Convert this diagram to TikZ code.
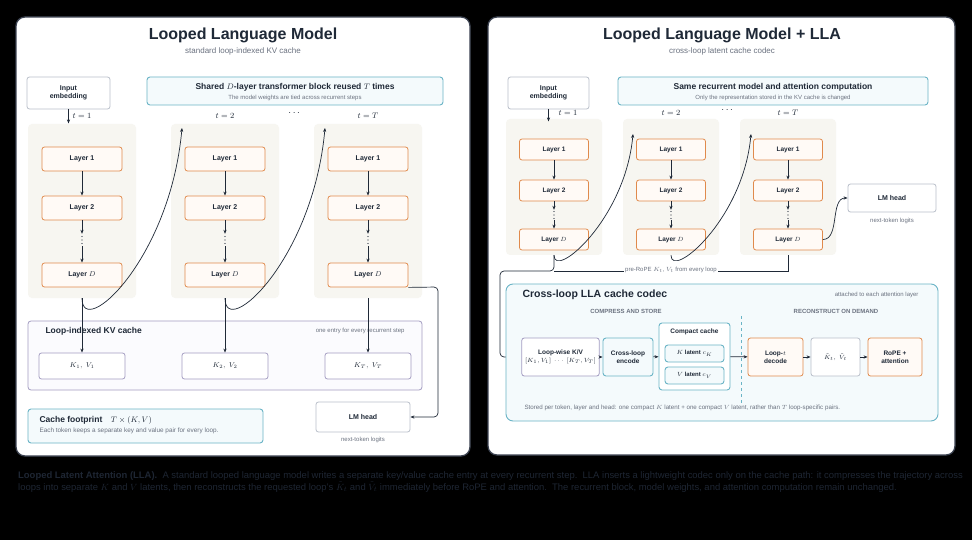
\documentclass[tikz,border=0pt]{standalone}
\usepackage{fontspec}
\setmainfont{Liberation Sans}
\usepackage{amsmath}
\usetikzlibrary{arrows.meta}
\usetikzlibrary{positioning}
\definecolor{ink}{HTML}{1F2937}
\definecolor{muted}{HTML}{6B7280}
\definecolor{panelline}{HTML}{3B4250}
\definecolor{loopgray}{HTML}{F7F6F1}
\definecolor{orangeline}{HTML}{E08A4C}
\definecolor{orangefill}{HTML}{FFFAF6}
\definecolor{tealline}{HTML}{6AB4C6}
\definecolor{tealfill}{HTML}{F4FAFC}
\definecolor{purpleline}{HTML}{A49DC2}
\definecolor{purplefill}{HTML}{FBFBFE}
\definecolor{grayline}{HTML}{B9BFCA}
\definecolor{captionink}{HTML}{1E2633}
\newcommand{\fsz}[2]{\fontsize{#1}{#2}\selectfont}
\tikzset{
panel/.style={draw=panelline, line width=1.3pt, fill=white, rounded corners=9pt},
title/.style={text=ink, font=\bfseries\fsz{16}{18}},
subtitle/.style={text=muted, font=\fsz{8}{9}},
loopbg/.style={fill=loopgray, rounded corners=4pt},
layer/.style={draw=orangeline, fill=orangefill, line width=0.8pt, rounded corners=2.5pt, text=ink, font=\bfseries\fsz{7}{8}},
plainbox/.style={draw=grayline, fill=white, line width=0.8pt, rounded corners=2.5pt, text=ink, align=center, font=\bfseries\fsz{7}{8.5}},
tealbox/.style={draw=tealline, fill=tealfill, line width=0.9pt, rounded corners=3pt},
purplebox/.style={draw=purpleline, fill=purplefill, line width=0.8pt, rounded corners=3pt},
entry/.style={draw=purpleline, fill=white, line width=0.8pt, rounded corners=2.5pt, text=ink, font=\fsz{7}{8}},
head/.style={text=ink, font=\bfseries\fsz{8.5}{10}},
note/.style={text=muted, font=\fsz{6}{7}},
tlabel/.style={text=ink, font=\fsz{8}{9}},
vdotsnode/.style={minimum width=4pt, minimum height=10pt, inner sep=0pt,
    path picture={\fill[ink] ([yshift=3.5pt]path picture bounding box.center) circle (0.55pt)
        (path picture bounding box.center) circle (0.55pt)
        ([yshift=-3.5pt]path picture bounding box.center) circle (0.55pt);}},
conn/.style={draw=ink, line width=0.7pt},
}

\begin{document}
\begin{tikzpicture}[x=1pt, y=-1pt, >={Stealth[length=4pt,width=3.2pt]}]
            \fill[black] (0,0) rectangle (972,540);
            \useasboundingbox (0,0) rectangle (972,540);

            % left panel
            \node[panel, minimum width=454pt, minimum height=439pt] (panelL) at (243,236.5) {};
            \node[title] (titleL) at (243,35) {Looped Language Model};
            \node[subtitle] (subL) at (243,51) {standard loop-indexed KV cache};
            \node[plainbox, minimum width=83pt, minimum height=32pt] (embL) at (68.5,93) {Input\\embedding};
            \node[tealbox, minimum width=296pt, minimum height=28pt] (sharedL) at (295,91) {};
            \node[head] at (295,87) {Shared $D$-layer transformer block reused $T$ times};
            \node[note] at (295,98) {The model weights are tied across recurrent steps};
            \node[tlabel] at (82,116) {$t = 1$};
            \node[tlabel] at (225,116) {$t = 2$};
            \node[tlabel, font=\fsz{10}{10}] at (295,113) {$\cdots$};
            \node[tlabel] at (368,116) {$t = T$};

            \node[loopbg, minimum width=108pt, minimum height=174pt] (colA1) at (82,211) {};
            \node[loopbg, minimum width=108pt, minimum height=174pt] (colA2) at (225,211) {};
            \node[loopbg, minimum width=108pt, minimum height=174pt] (colA3) at (368,211) {};
            \node[layer, minimum width=80pt, minimum height=24pt] (a11) at (82,159) {Layer 1};
            \node[layer, minimum width=80pt, minimum height=24pt] (a12) at (82,208) {Layer 2};
            \node[vdotsnode, minimum height=12pt] (a1d) at (82,240) {};
            \node[layer, minimum width=80pt, minimum height=24pt] (a1D) at (82,275) {Layer $D$};
            \node[layer, minimum width=80pt, minimum height=24pt] (a21) at (225,159) {Layer 1};
            \node[layer, minimum width=80pt, minimum height=24pt] (a22) at (225,208) {Layer 2};
            \node[vdotsnode, minimum height=12pt] (a2d) at (225,240) {};
            \node[layer, minimum width=80pt, minimum height=24pt] (a2D) at (225,275) {Layer $D$};
            \node[layer, minimum width=80pt, minimum height=24pt] (a31) at (368,159) {Layer 1};
            \node[layer, minimum width=80pt, minimum height=24pt] (a32) at (368,208) {Layer 2};
            \node[vdotsnode, minimum height=12pt] (a3d) at (368,240) {};
            \node[layer, minimum width=80pt, minimum height=24pt] (a3D) at (368,275) {Layer $D$};

            \node[purplebox, minimum width=394pt, minimum height=69pt] (kvbox) at (225,355.5) {};
            \node[head, anchor=west] at (42,331) {Loop-indexed KV cache};
            \node[note, anchor=east] at (408,331) {one entry for every recurrent step};
            \node[entry, minimum width=86pt, minimum height=26pt] (kvA1) at (82,366) {$K_1,\ V_1$};
            \node[entry, minimum width=86pt, minimum height=26pt] (kvA2) at (225,366) {$K_2,\ V_2$};
            \node[entry, minimum width=86pt, minimum height=26pt] (kvA3) at (368,366) {$K_T,\ V_T$};

            \node[tealbox, minimum width=235pt, minimum height=34pt] (footL) at (145.5,426) {};
            \node[head, anchor=west] at (36,420) {Cache footprint\quad $T\times(K,V)$};
            \node[note, anchor=west, font=\fsz{6.4}{7}] at (36,431) {Each token keeps a separate key and value pair for every loop.};
            \node[plainbox, minimum width=94pt, minimum height=30pt] (lmL) at (363,417) {LM head};
            \node[note, below=1pt of lmL] {next-token logits};

            \coordinate (inA2) at (182,128);
            \coordinate (inA3) at (325,128);
            \coordinate (turnL) at (438,287);
            \draw[conn, ->] (embL.south) -- ++(0,14);
            \draw[conn, ->] (a11) -- (a12);
            \draw[conn, ->] (a12) -- (a1d);
            \draw[conn, ->] (a1d) -- (a1D);
            \draw[conn, ->] (a21) -- (a22);
            \draw[conn, ->] (a22) -- (a2d);
            \draw[conn, ->] (a2d) -- (a2D);
            \draw[conn, ->] (a31) -- (a32);
            \draw[conn, ->] (a32) -- (a3d);
            \draw[conn, ->] (a3d) -- (a3D);
            \draw[conn, ->] (colA1.south) -- (kvA1.north);
            \draw[conn, ->] (colA2.south) -- (kvA2.north);
            \draw[conn, ->] (colA3.south) -- (kvA3.north);
            \draw[conn, ->] (colA1.south) .. controls (82,340) and (170,260) .. (inA2);
            \draw[conn, ->] (colA2.south) .. controls (225,340) and (313,260) .. (inA3);
            \draw[conn, ->, rounded corners=4pt] (a3D.south east) -- (turnL) |- (lmL.east);

            % right panel
            \node[panel, minimum width=467pt, minimum height=438pt] (panelR) at (721.5,236) {};
            \node[title] (titleR) at (722,35) {Looped Language Model + LLA};
            \node[subtitle] (subR) at (722,51) {cross-loop latent cache codec};
            \node[plainbox, minimum width=81pt, minimum height=32pt] (embR) at (548.5,93) {Input\\embedding};
            \node[tealbox, minimum width=310pt, minimum height=28pt] (sharedR) at (773,91) {};
            \node[head] at (773,87) {Same recurrent model and attention computation};
            \node[note] at (773,98) {Only the representation stored in the KV cache is changed};
            \node[tlabel] at (568,113) {$t = 1$};
            \node[tlabel] at (671,113) {$t = 2$};
            \node[tlabel, font=\fsz{10}{10}] at (728,110) {$\cdots$};
            \node[tlabel] at (788,113) {$t = T$};

            \node[loopbg, minimum width=96pt, minimum height=136pt] (colB1) at (554,187) {};
            \node[loopbg, minimum width=96pt, minimum height=136pt] (colB2) at (671,187) {};
            \node[loopbg, minimum width=96pt, minimum height=136pt] (colB3) at (788,187) {};
            \node[layer, minimum width=69pt, minimum height=21pt, font=\bfseries\fsz{6.5}{7.5}] (b11) at (554,149.5) {Layer 1};
            \node[layer, minimum width=69pt, minimum height=21pt, font=\bfseries\fsz{6.5}{7.5}] (b12) at (554,190.5) {Layer 2};
            \node[vdotsnode] (b1d) at (554,215) {};
            \node[layer, minimum width=69pt, minimum height=21pt, font=\bfseries\fsz{6.5}{7.5}] (b1D) at (554,239.5) {Layer $D$};
            \node[layer, minimum width=69pt, minimum height=21pt, font=\bfseries\fsz{6.5}{7.5}] (b21) at (671,149.5) {Layer 1};
            \node[layer, minimum width=69pt, minimum height=21pt, font=\bfseries\fsz{6.5}{7.5}] (b22) at (671,190.5) {Layer 2};
            \node[vdotsnode] (b2d) at (671,215) {};
            \node[layer, minimum width=69pt, minimum height=21pt, font=\bfseries\fsz{6.5}{7.5}] (b2D) at (671,239.5) {Layer $D$};
            \node[layer, minimum width=69pt, minimum height=21pt, font=\bfseries\fsz{6.5}{7.5}] (b31) at (788,149.5) {Layer 1};
            \node[layer, minimum width=69pt, minimum height=21pt, font=\bfseries\fsz{6.5}{7.5}] (b32) at (788,190.5) {Layer 2};
            \node[vdotsnode] (b3d) at (788,215) {};
            \node[layer, minimum width=69pt, minimum height=21pt, font=\bfseries\fsz{6.5}{7.5}] (b3D) at (788,239.5) {Layer $D$};
            \node[plainbox, minimum width=88pt, minimum height=28pt] (lmR) at (892,198) {LM head};
            \node[note, below=2pt of lmR] {next-token logits};

            \node[tealbox, minimum width=432pt, minimum height=137pt, rounded corners=7pt] (codec) at (722,352.5) {};
            \node[head, anchor=west, font=\bfseries\fsz{10.5}{12}] at (519,295) {Cross-loop LLA cache codec};
            \node[note, anchor=east] at (922,295) {attached to each attention layer};
            \node[note, font=\bfseries\fsz{6}{7}] at (626,311) {COMPRESS AND STORE};
            \node[note, font=\bfseries\fsz{6}{7}] at (836,311) {RECONSTRUCT ON DEMAND};
            \draw[tealline, dashed, line width=0.7pt] (741,316) -- (741,405);
            \node[entry, minimum width=71pt, minimum height=38pt, align=center, font=\fsz{6}{7.5}] (loopkv) at (560.5,357) {\textbf{\fsz{6.5}{7.5}Loop-wise K/V}\\$[K_1,V_1]\ \cdots\ [K_T,V_T]$};
            \node[tealbox, minimum width=50pt, minimum height=38pt, align=center, text=ink, font=\bfseries\fsz{6.5}{8}] (encode) at (628,357) {Cross-loop\\encode};
            \node[tealbox, fill=white, minimum width=71pt, minimum height=67pt] (compact) at (694.5,356.5) {};
            \node[text=ink, font=\bfseries\fsz{6.5}{7.5}] at (694.5,332) {Compact cache};
            \node[tealbox, minimum width=59pt, minimum height=17pt, text=ink, font=\bfseries\fsz{6}{7}] (klat) at (694.5,353.5) {$K$ latent $c_K$};
            \node[tealbox, minimum width=59pt, minimum height=17pt, text=ink, font=\bfseries\fsz{6}{7}] (vlat) at (694.5,375.5) {$V$ latent $c_V$};
            \node[layer, minimum width=55pt, minimum height=38pt, align=center, font=\bfseries\fsz{6.5}{8}] (decode) at (775.5,357) {Loop-$t$\\decode};
            \node[plainbox, minimum width=49pt, minimum height=38pt, font=\fsz{6.5}{8}] (ktil) at (835.5,357) {$\tilde{K}_t,\;\tilde{V}_t$};
            \node[layer, minimum width=54pt, minimum height=38pt, align=center, font=\bfseries\fsz{6.5}{8}] (rope) at (895,357) {RoPE +\\attention};
            \node[note, anchor=west, font=\fsz{6.2}{7}] at (521,408) {Stored per token, layer and head: one compact $K$ latent + one compact $V$ latent, rather than $T$ loop-specific pairs.};

            \coordinate (inB2) at (633,134);
            \coordinate (inB3) at (751,134);
            \coordinate (busL) at (554,271);
            \coordinate (busR) at (788,271);
            \coordinate (busturn) at (500,271);
            \draw[conn, ->] (embR.south) -- ++(0,12);
            \draw[conn, ->] (b11) -- (b12);
            \draw[conn, ->] (b12) -- (b1d);
            \draw[conn, ->] (b1d) -- (b1D);
            \draw[conn, ->] (b21) -- (b22);
            \draw[conn, ->] (b22) -- (b2d);
            \draw[conn, ->] (b2d) -- (b2D);
            \draw[conn, ->] (b31) -- (b32);
            \draw[conn, ->] (b32) -- (b3d);
            \draw[conn, ->] (b3d) -- (b3D);
            \draw[conn, ->] (colB1.south) .. controls (554,280) and (625,220) .. (inB2);
            \draw[conn, ->] (colB2.south) .. controls (671,280) and (743,220) .. (inB3);
            \draw[conn, ->] (b3D.east) .. controls (840,239.5) and (830,198) .. (lmR.west);
            \draw[conn] (colB3.south) -- (busR) -- (busL);
            \draw[conn, rounded corners=4pt] (colB1.south) -- (busL) -- (busturn) |- (codec.west |- loopkv.west);
            \node[note, fill=white, inner sep=1.5pt] (buslabel) at (671,270) {pre-RoPE $K_t$, $V_t$ from every loop};
            \draw[conn, ->] (loopkv) -- (encode);
            \draw[conn, ->] (encode) -- (compact);
            \draw[conn, ->] (compact) -- (decode);
            \draw[conn, ->] (decode) -- (ktil);
            \draw[conn, ->] (ktil) -- (rope);

            % caption
            \node[anchor=north west, align=left, text=captionink, font=\fsz{9.45}{12}, inner sep=0pt] (caption) at (18,471) {\textbf{Looped Latent Attention (LLA).}\ \ A standard looped language model writes a separate key/value cache entry at every recurrent step.\ \ LLA inserts a lightweight codec only on the cache path: it compresses the trajectory across\\loops into separate $K$ and $V$ latents, then reconstructs the requested loop's $\tilde{K}_t$ and $\tilde{V}_t$ immediately before RoPE and attention.\ \ The recurrent block, model weights, and attention computation remain unchanged.};
        \end{tikzpicture}
\end{document}
